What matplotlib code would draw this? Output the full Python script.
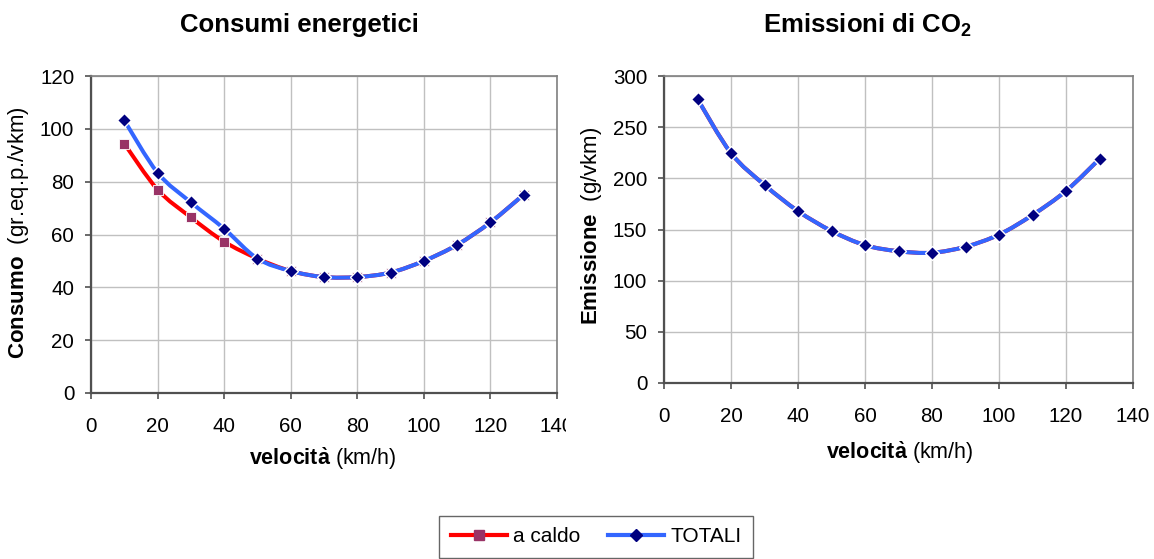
import numpy as np
import matplotlib
matplotlib.use("Agg")
import matplotlib.pyplot as plt
from matplotlib.path import Path
from matplotlib.patches import PathPatch
from matplotlib.lines import Line2D
from matplotlib.transforms import Bbox

plt.rcParams['font.family'] = ['Liberation Sans', 'DejaVu Sans']
plt.rcParams['mathtext.fontset'] = 'custom'
plt.rcParams['mathtext.rm'] = 'Liberation Sans'
plt.rcParams['mathtext.bf'] = 'Liberation Sans:bold'
plt.rcParams['mathtext.it'] = 'Liberation Sans:italic'

# ---- data ----
speed = [10, 20, 30, 40, 50, 60, 70, 80, 90, 100, 110, 120, 130]
cons_caldo = [94.4, 77.0, 66.5, 57.3, 50.9, 46.2, 43.9, 43.9, 45.6, 50.0, 56.1, 64.6, 75.1]
cons_totali = [103.2, 83.4, 72.2, 62.2, 50.9, 46.2, 43.9, 43.9, 45.6, 50.0, 56.1, 64.6, 75.1]
co2_caldo = [277.5, 224.7, 193.6, 168.0, 148.6, 134.7, 128.8, 127.3, 133.2, 145.0, 164.2, 187.7, 219.0]
co2_totali = [277.5, 224.7, 193.6, 168.0, 148.6, 134.7, 128.8, 127.3, 133.2, 145.0, 164.2, 187.7, 219.0]
series_labels = ['a caldo', 'TOTALI']

RED = '#FF0000'
BLUE = '#3366FF'
NAVY = '#000080'
PURPLE = '#993366'
GRID = '#C0C0C0'
SPINE = '#808080'


def smooth_path(x, y):
    # Excel-like smoothed line: Catmull-Rom segments drawn as cubic Bezier curves
    pts = np.column_stack([x, y]).astype(float)
    n = len(pts)
    verts = [pts[0]]
    codes = [Path.MOVETO]
    for i in range(n - 1):
        p0 = pts[i - 1] if i > 0 else pts[i]
        p1 = pts[i]
        p2 = pts[i + 1]
        p3 = pts[i + 2] if i + 2 < n else pts[i + 1]
        c1 = p1 + (p2 - p0) / 6.0
        c2 = p2 - (p3 - p1) / 6.0
        verts += [c1, c2, p2]
        codes += [Path.CURVE4] * 3
    return Path(verts, codes)


def draw_series(ax, x, y, color, marker, mcolor, msize, mew, z):
    patch = PathPatch(smooth_path(x, y), facecolor='none', edgecolor=color,
                      lw=2.9, capstyle='round', joinstyle='round', zorder=z)
    ax.add_patch(patch)
    ax.plot(x, y, ls='none', marker=marker, markersize=msize,
            markerfacecolor=mcolor, markeredgecolor='white', markeredgewidth=mew,
            zorder=z + 0.5)


fig = plt.figure(figsize=(11.54, 5.59), dpi=100)
W, H = 1154.0, 559.0


def style_axes(ax, ymax, ystep):
    ax.set_xlim(0, 140)
    ax.set_ylim(0, ymax)
    ax.set_xticks(np.arange(0, 141, 20))
    ax.set_yticks(np.arange(0, ymax + 1, ystep))
    ax.grid(True, color=GRID, lw=1)
    ax.set_axisbelow(True)
    for s in ['top', 'right']:
        ax.spines[s].set_color(SPINE)
        ax.spines[s].set_linewidth(1.2)
    for s in ['left', 'bottom']:
        ax.spines[s].set_color('#505050')
        ax.spines[s].set_linewidth(1.6)
    ax.tick_params(direction='out', length=4, width=1.2, color='#505050',
                   labelsize=14.8, pad=8)
    ax.tick_params(axis='x', pad=13)


ax1 = fig.add_axes([91 / W, 1 - 393 / H, 466 / W, 317 / H])
style_axes(ax1, 120, 20)
draw_series(ax1, speed, cons_caldo, RED, 's', PURPLE, 6.6, 0.6, 3)
draw_series(ax1, speed, cons_totali, BLUE, 'D', NAVY, 7.0, 1.0, 5)

ax2 = fig.add_axes([664 / W, 1 - 383 / H, 469 / W, 307 / H])
style_axes(ax2, 300, 50)
draw_series(ax2, speed, co2_caldo, RED, 's', PURPLE, 5.3, 0.6, 3)
draw_series(ax2, speed, co2_totali, BLUE, 'D', NAVY, 7.0, 1.0, 5)

# clip the "140" label of the left chart as in the original
fig.canvas.draw()
lab = ax1.get_xticklabels()[-1]
lab.set_clip_box(Bbox.from_extents(0, 0, 566, H))
lab.set_clip_on(True)

# titles
fig.text(299 / W, 1 - 25 / H, 'Consumi energetici', ha='center', va='center',
         fontsize=18.5, fontweight='bold')
fig.text(867 / W, 1 - 25 / H, r'Emissioni di CO$\mathbf{_2}$', ha='center', va='center',
         fontsize=18.5, fontweight='bold')

# axis labels
fig.text(19 / W, 1 - 233 / H, r'$\mathbf{Consumo}$  (gr.eq.p./vkm)', rotation=90,
         ha='center', va='center', fontsize=16)
fig.text(592 / W, 1 - 226 / H, r'$\mathbf{Emissione}$  (g/vkm)', rotation=90,
         ha='center', va='center', fontsize=16)
fig.text(323 / W, 1 - 459 / H, r'$\mathbf{velocit\`a}$ (km/h)',
         ha='center', va='center', fontsize=15.5)
fig.text(900 / W, 1 - 453 / H, r'$\mathbf{velocit\`a}$ (km/h)',
         ha='center', va='center', fontsize=15.5)

# legend
h1 = Line2D([], [], color=RED, lw=3, marker='s', markersize=6.5,
            markerfacecolor=PURPLE, markeredgecolor=PURPLE)
h2 = Line2D([], [], color=BLUE, lw=3, marker='D', markersize=6.5,
            markerfacecolor=NAVY, markeredgecolor=NAVY)
leg = fig.legend([h1, h2], series_labels, loc='upper center',
                 bbox_to_anchor=(596 / W, 1 - 516 / H), ncol=2, fontsize=15,
                 frameon=True, fancybox=False, handlelength=2.7, handletextpad=0.3,
                 columnspacing=1.3, borderpad=0.55, numpoints=1, borderaxespad=0)
leg.get_frame().set_edgecolor('#404040')
leg.get_frame().set_linewidth(1.0)

fig.savefig('out.png', dpi=100)
